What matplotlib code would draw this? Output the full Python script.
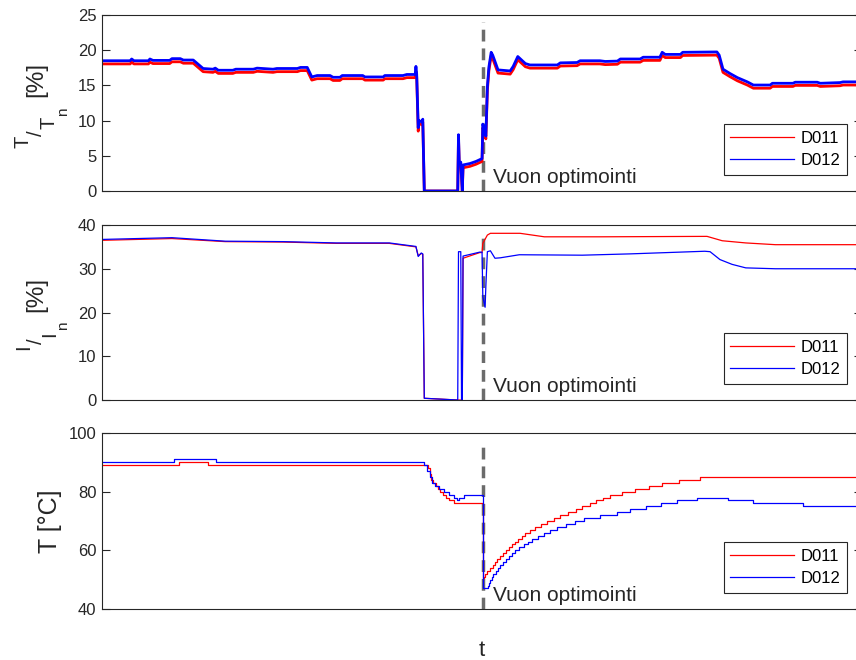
import matplotlib
matplotlib.use('Agg')
import matplotlib.pyplot as plt
import matplotlib.transforms as mtransforms
from matplotlib.lines import Line2D

# time axis in arbitrary units (0..100), event = flux optimisation switched on
event_t = 50.1
event_text = 'Vuon optimointi'
names = ['D011', 'D012']

# torque T/Tn [%]
torque_t = [0.0, 3.7, 3.9, 4.2, 6.1, 6.3, 6.7, 8.9, 9.2, 10.3, 10.7, 12.0, 13.3, 14.6,
            14.9, 15.3, 17.2, 17.6, 19.9, 20.4, 22.5, 23.0, 25.7, 26.1, 27.0, 27.6,
            28.3, 30.0, 30.4, 31.3, 31.6, 34.3, 34.6, 37.0, 37.2, 39.6, 40.1, 41.2,
            41.3, 41.4, 41.6, 41.7, 42.1, 42.2, 42.4, 46.8, 46.9, 47.0, 47.2, 47.4,
            47.5, 48.4, 49.2, 50.0, 50.1, 50.3, 50.5, 50.7, 50.9, 51.2, 51.4, 52.1,
            53.7, 54.1, 54.7, 55.7, 56.3, 59.9, 60.3, 62.5, 62.9, 65.5, 66.2, 67.8,
            68.2, 70.8, 71.2, 73.4, 73.7, 74.1, 76.1, 76.4, 80.9, 81.2, 81.7, 82.6,
            83.6, 84.9, 85.7, 87.9, 88.2, 90.9, 91.2, 94.1, 94.5, 97.1, 97.5, 100.0]
torque_d012 = [18.5, 18.5, 18.75, 18.5, 18.5, 18.75, 18.55, 18.55, 18.8, 18.8, 18.6, 18.6,
               17.4, 17.3, 17.45, 17.15, 17.15, 17.3, 17.3, 17.45, 17.3, 17.4, 17.4, 17.55,
               17.55, 16.2, 16.4, 16.4, 16.15, 16.15, 16.4, 16.4, 16.2, 16.2, 16.4, 16.4,
               16.55, 16.55, 17.7, 16.6, 9.0, 10.0, 9.8, 10.2, 0.0, 0.0, 8.0, 4.0, 4.1, 0.0,
               3.7, 3.9, 4.2, 4.6, 9.5, 8.8, 7.8, 14.8, 17.6, 19.7, 19.3, 17.2, 17.05, 17.7,
               19.1, 18.1, 17.9, 17.9, 18.2, 18.25, 18.5, 18.5, 18.4, 18.45, 18.75, 18.75,
               19.0, 19.0, 19.7, 19.4, 19.4, 19.7, 19.75, 19.3, 17.3, 16.7, 16.1, 15.5,
               15.05, 15.05, 15.3, 15.3, 15.45, 15.45, 15.3, 15.4, 15.5, 15.5]
torque_d011 = [18.05, 18.05, 18.3, 18.05, 18.05, 18.3, 18.1, 18.1, 18.35, 18.35, 18.15, 18.15,
               16.95, 16.85, 17.0, 16.7, 16.7, 16.85, 16.85, 17.0, 16.85, 16.95, 16.95, 17.1,
               17.1, 15.75, 15.95, 15.95, 15.7, 15.7, 15.95, 15.95, 15.75, 15.75, 15.95, 15.95,
               16.1, 16.1, 17.0, 16.2, 8.5, 9.6, 9.4, 9.8, 0.0, 0.0, 7.6, 3.6, 3.7, 0.0,
               3.3, 3.5, 3.8, 4.2, 9.0, 8.4, 7.4, 14.3, 17.1, 19.2, 18.8, 16.75, 16.6, 17.25,
               18.65, 17.65, 17.45, 17.45, 17.75, 17.8, 18.05, 18.05, 17.95, 18.0, 18.3, 18.3,
               18.55, 18.55, 19.25, 18.95, 18.95, 19.25, 19.3, 18.85, 16.85, 16.25, 15.65, 15.05,
               14.6, 14.6, 14.85, 14.85, 15.0, 15.0, 14.85, 14.95, 15.05, 15.05]

# current I/In [%]
current_t_d011 = [0.0, 9.2, 16.2, 23.8, 30.8, 37.8, 41.3, 41.6, 42.0, 42.2, 42.4, 46.8,
                  47.4, 47.5, 49.7, 50.0, 50.1, 50.7, 51.1, 55.0, 58.2, 65.5, 79.6, 81.6,
                  84.7, 88.6, 100.0]
current_d011 = [36.5, 36.9, 36.2, 36.1, 35.8, 35.8, 35.0, 33.0, 33.5, 33.3, 0.4, 0.0,
                0.0, 32.4, 33.7, 33.7, 35.8, 37.7, 38.1, 38.1, 37.3, 37.3, 37.4, 36.4,
                35.9, 35.5, 35.5]
current_t_d012 = [0.0, 9.2, 16.2, 23.8, 30.8, 37.8, 41.3, 41.6, 42.0, 42.2, 42.4, 46.8,
                  46.9, 47.2, 47.3, 47.4, 47.5, 49.7, 50.0, 50.1, 50.4, 50.5, 50.7, 51.1,
                  51.7, 52.4, 54.9, 63.2, 69.5, 79.3, 80.0, 81.3, 82.9, 84.7, 88.6, 100.0]
current_d012 = [36.7, 37.1, 36.3, 36.2, 35.9, 35.9, 35.1, 32.8, 33.6, 33.4, 0.4, 0.0,
                33.9, 33.9, 0.0, 0.0, 32.9, 33.8, 33.8, 23.6, 21.2, 26.0, 33.9, 34.1,
                32.4, 32.5, 33.2, 33.1, 33.4, 34.0, 33.9, 32.1, 31.0, 30.2, 30.0, 30.0]

# winding temperature T [degC], logged in 1 degC steps
temp_t_d011 = [0.0, 10.1, 13.9, 42.9, 43.1, 43.3, 43.6, 43.9, 44.2, 44.5, 44.8, 45.2,
               45.7, 46.3, 50.1, 50.2, 50.4, 50.7, 51.1, 51.4, 51.7, 52.0, 52.4, 52.8,
               53.2, 53.6, 53.9, 54.3, 54.7, 55.2, 55.7, 56.3, 57.0, 57.7, 58.5, 59.4,
               60.3, 61.3, 62.3, 63.2, 64.2, 65.0, 65.9, 66.8, 68.4, 70.1, 72.0, 73.7,
               75.9, 78.7, 100.0]
temp_d011 = [89, 90, 89, 88, 86, 84, 83, 82, 81, 80, 79, 78,
             77, 76, 50.5, 51, 52, 53, 54, 55, 56, 57, 58, 59,
             60, 61, 62, 63, 64, 65, 66, 67, 68, 69, 70, 71,
             72, 73, 74, 75, 76, 77, 78, 79, 80, 81, 82, 83,
             84, 85, 85]
temp_t_d012 = [0.0, 9.5, 15.0, 42.4, 42.8, 43.1, 43.4, 43.8, 44.3, 45.0, 45.6, 46.3,
               46.7, 47.0, 47.6, 50.1, 50.8, 50.9, 51.1, 51.3, 51.5, 51.8, 52.1, 52.4,
               52.8, 53.2, 53.6, 53.9, 54.4, 54.9, 55.5, 56.0, 56.6, 57.4, 58.1, 58.9,
               59.8, 61.0, 62.2, 63.4, 65.5, 67.8, 69.5, 71.6, 73.6, 75.7, 78.3, 82.4,
               85.7, 92.2, 100.0]
temp_d012 = [90, 91, 90, 89, 87, 85, 83, 82, 81, 80, 79, 78,
             77, 78, 79, 47, 48, 49, 50, 51, 52, 53, 54, 55,
             56, 57, 58, 59, 60, 61, 62, 63, 64, 65, 66, 67,
             68, 69, 70, 71, 72, 73, 74, 75, 76, 77, 78, 77,
             76, 75, 75]

AX_COLOR = '#262626'
W, H = 856, 660


def stacked_label(fig, pieces):
    # MATLAB-like "^T/_T_n [%]" label built from rotated pieces (pixel anchors)
    for s, xb, ys, size in pieces:
        fig.text(xb / W, 1 - ys / H, s, rotation=90, rotation_mode='anchor',
                 ha='left', va='baseline', fontsize=size, color=AX_COLOR)


def style_axis(ax, ylim, yticks, dash_top):
    ax.set_xlim(0, 100)
    ax.set_ylim(*ylim)
    ax.set_yticks(yticks)
    ax.set_xticks([])
    ax.tick_params(axis='y', direction='in', length=5.5, width=0.8, left=True, right=True,
                   labelsize=12, colors=AX_COLOR, pad=4)
    for s in ax.spines.values():
        s.set_color(AX_COLOR)
        s.set_linewidth(0.8)
    # event marker
    ax.plot([event_t, event_t], [ylim[0], dash_top], color='#6b6b6b', lw=2.5,
            linestyle=(0, (3.4, 2.0)), zorder=1.5)
    trans = mtransforms.blended_transform_factory(ax.transData, ax.transAxes)
    ax.text(51.4, 0.047, event_text, transform=trans, fontsize=15, color=AX_COLOR,
            va='baseline', ha='left')
    handles = [Line2D([], [], color='#ff0000', lw=0.9), Line2D([], [], color='#0000ff', lw=0.9)]
    leg = ax.legend(handles, names, loc='lower right', bbox_to_anchor=(0.98, 0.093),
                    borderaxespad=0, fontsize=12, handlelength=3.8, handletextpad=0.4,
                    borderpad=0.4, labelspacing=0.42, fancybox=False, framealpha=1)
    leg.get_frame().set_edgecolor(AX_COLOR)
    leg.get_frame().set_linewidth(0.8)


def main():
    plt.rcParams['font.family'] = ['Liberation Sans', 'DejaVu Sans']

    fig = plt.figure(figsize=(8.56, 6.6), dpi=100)
    ax1 = fig.add_axes([0.1192, 0.7106, 0.8879, 0.2667])
    ax2 = fig.add_axes([0.1192, 0.3939, 0.8879, 0.2652])
    ax3 = fig.add_axes([0.1192, 0.0773, 0.8879, 0.2667])

    ax1.plot(torque_t, torque_d011, color='#ff0000', lw=2.0)
    ax1.plot(torque_t, torque_d012, color='#0000ff', lw=2.0)
    style_axis(ax1, (0, 25), range(0, 26, 5), 24)
    stacked_label(fig, [('T', 29, 148, 14.5), ('/', 42, 136, 14.5), ('T', 55, 129, 14.5),
                        ('n', 67, 116, 11), ('[%]', 42, 97, 17.5)])

    ax2.plot(current_t_d011, current_d011, color='#ff0000', lw=0.9)
    ax2.plot(current_t_d012, current_d012, color='#0000ff', lw=0.9)
    style_axis(ax2, (0, 40), range(0, 41, 10), 38.4)
    stacked_label(fig, [('I', 29, 350, 14.5), ('/', 42, 344, 14.5), ('I', 55, 337, 14.5),
                        ('n', 67, 330, 11), ('[%]', 42, 312, 17.5)])

    ax3.plot(temp_t_d011, temp_d011, color='#ff0000', lw=0.9, drawstyle='steps-post')
    ax3.plot(temp_t_d012, temp_d012, color='#0000ff', lw=0.9, drawstyle='steps-post')
    style_axis(ax3, (40, 100), range(40, 101, 20), 97)
    ax3.set_ylabel('T [°C]', fontsize=18, color=AX_COLOR)
    ax3.yaxis.set_label_coords(-0.053, 0.5)
    ax3.set_xlabel('t', fontsize=16, color=AX_COLOR, va='baseline')
    ax3.xaxis.set_label_coords(0.5, -0.267)

    plt.savefig('out.png', dpi=100)
    plt.close(fig)


if __name__ == '__main__':
    main()
